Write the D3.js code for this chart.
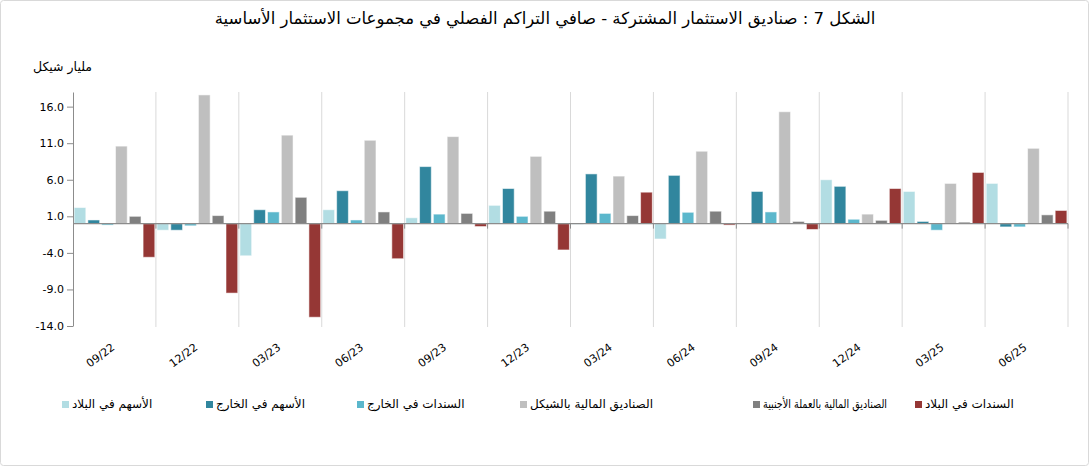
<!DOCTYPE html>
<html>
<head>
<meta charset="utf-8">
<script src="https://cdn.jsdelivr.net/npm/d3@7"></script>
<style>
    body { margin: 0; background: #fff; }
    text { font-family: "DejaVu Sans", sans-serif; }
</style>
</head>
<body>
<div id="chart"></div>
<script>
// quarters (end of quarter)
var categories = ["09/22", "12/22", "03/23", "06/23", "09/23", "12/23", "03/24", "06/24", "09/24", "12/24", "03/25", "06/25"];

var seriesNames = [
    "الأسهم في البلاد",
    "الأسهم في الخارج",
    "السندات في الخارج",
    "الصناديق المالية بالشيكل",
    "الصناديق المالية بالعملة الأجنبية",
    "السندات في البلاد"
];

// billion NIS
var domesticEquity = [2.2, -0.9, -4.4, 1.9, 0.8, 2.5, -0.1, -2.1, 0.0, 6.0, 4.4, 5.5];
var foreignEquity = [0.5, -0.9, 1.9, 4.5, 7.8, 4.8, 6.8, 6.6, 4.4, 5.1, 0.3, -0.45];
var foreignBonds = [-0.2, -0.3, 1.6, 0.5, 1.3, 1.0, 1.4, 1.55, 1.6, 0.6, -0.9, -0.45];
var shekelFunds = [10.6, 17.6, 12.1, 11.4, 11.9, 9.2, 6.5, 9.9, 15.3, 1.3, 5.5, 10.3];
var fxFunds = [1.0, 1.1, 3.6, 1.6, 1.4, 1.7, 1.1, 1.7, 0.3, 0.45, 0.2, 1.2];
var domesticBonds = [-4.6, -9.5, -12.8, -4.8, -0.4, -3.6, 4.3, -0.2, -0.8, 4.8, 7.0, 1.8];

var yTicks = [-14, -9, -4, 1, 6, 11, 16];

var colors = ["#b2dde3", "#31869e", "#5bb7cc", "#bfbfbf", "#808080", "#953735"];

function drawChart() {
    var W = 1090, H = 467;
    var margin = { top: 92, right: 22, bottom: 141, left: 73 },
        width = W - margin.left - margin.right,
        height = H - margin.top - margin.bottom;

    var allSeries = [domesticEquity, foreignEquity, foreignBonds, shekelFunds, fxFunds, domesticBonds];

    var root = d3.select("#chart")
        .append("svg")
        .attr("width", W)
        .attr("height", H);

    // outer frame
    root.append("rect")
        .attr("x", 0.5).attr("y", 0.5)
        .attr("width", W - 2).attr("height", H - 2)
        .attr("rx", 3)
        .attr("fill", "#fff")
        .attr("stroke", "#d9d9d9");

    // title
    root.append("text")
        .attr("x", 545)
        .attr("y", 24)
        .attr("text-anchor", "middle")
        .attr("direction", "rtl")
        .style("font-size", "16.5px")
        .style("fill", "#000")
        .text("الشكل 7 : صناديق الاستثمار المشتركة - صافي التراكم الفصلي في مجموعات الاستثمار الأساسية");

    // unit (rtl: start = right edge)
    root.append("text")
        .attr("x", 92)
        .attr("y", 71)
        .attr("text-anchor", "start")
        .attr("direction", "rtl")
        .style("font-size", "12.5px")
        .text("مليار شيكل");

    var svg = root.append("g")
        .attr("transform", "translate(" + margin.left + "," + margin.top + ")");

    var x0 = d3.scaleBand()
        .domain(categories)
        .range([0, width])
        .padding(0);

    var x1 = d3.scaleBand()
        .domain(d3.range(seriesNames.length))
        .range([0, x0.bandwidth()])
        .paddingInner(0.15)
        .paddingOuter(0.08);

    var y = d3.scaleLinear()
        .domain([-14, 18])
        .range([height, 0]);

    // vertical grid at category boundaries
    var bounds = categories.map(function (c) { return x0(c) + x0.bandwidth(); });
    svg.selectAll(".vgrid")
        .data(bounds)
        .enter()
        .append("line")
        .attr("x1", function (d) { return d; })
        .attr("x2", function (d) { return d; })
        .attr("y1", 0)
        .attr("y2", height + 1)
        .attr("stroke", "#d9d9d9")
        .attr("stroke-width", 1);

    // bars
    var groups = svg.selectAll(".grp")
        .data(categories)
        .enter()
        .append("g")
        .attr("transform", function (d) { return "translate(" + x0(d) + ",0)"; });

    groups.selectAll("rect")
        .data(function (d, i) {
            return allSeries.map(function (s, k) { return { k: k, value: s[i] }; });
        })
        .enter()
        .append("rect")
        .attr("x", function (d) { return x1(d.k); })
        .attr("width", x1.bandwidth())
        .attr("y", function (d) { return y(Math.max(0, d.value)); })
        .attr("height", function (d) { return Math.abs(y(d.value) - y(0)); })
        .attr("fill", function (d) { return colors[d.k]; })
        .attr("stroke", "#ffffff")
        .attr("stroke-opacity", 0.55)
        .attr("stroke-width", 1);

    // y axis
    var yAxis = svg.append("g")
        .call(d3.axisLeft(y).tickValues(yTicks).tickSize(6).tickSizeOuter(0)
            .tickFormat(d3.format(".1f")));
    yAxis.select(".domain").attr("stroke", "#8c8c8c");
    yAxis.selectAll(".tick line").attr("stroke", "#8c8c8c");
    yAxis.selectAll(".tick text")
        .attr("x", -9)
        .style("font-size", "11px")
        .style("fill", "#000")
        .text(function (d) { return d3.format(".1f")(d).replace("−", "-"); });

    // zero line with ticks at boundaries
    var x0Axis = svg.append("g")
        .attr("transform", "translate(0," + y(0) + ")");
    x0Axis.append("line")
        .attr("x1", 0).attr("x2", width)
        .attr("stroke", "#8c8c8c")
        .attr("stroke-width", 1.3);
    x0Axis.selectAll(".zt")
        .data(bounds)
        .enter()
        .append("line")
        .attr("x1", function (d) { return d; })
        .attr("x2", function (d) { return d; })
        .attr("y1", 0).attr("y2", 5)
        .attr("stroke", "#8c8c8c");

    // category labels
    svg.selectAll(".xlab")
        .data(categories)
        .enter()
        .append("text")
        .attr("text-anchor", "end")
        .attr("transform", function (d) {
            return "translate(" + (x0(d) + x0.bandwidth() / 2 + 1) + "," + (height + 23) + ") rotate(-36)";
        })
        .style("font-size", "11px")
        .text(function (d) { return d; });

    // legend
    var legendX = [62, 206, 357, 520, 753, 915];
    var leg = root.selectAll(".leg")
        .data(seriesNames)
        .enter()
        .append("g")
        .attr("transform", function (d, i) { return "translate(" + legendX[i] + ",401)"; });
    leg.append("rect")
        .attr("x", 0).attr("y", 0)
        .attr("width", 7).attr("height", 7)
        .attr("fill", function (d, i) { return colors[i]; });
    leg.append("text")
        .attr("x", 10)
        .attr("y", 7)
        .attr("text-anchor", "end")
        .attr("direction", "rtl")
        .style("font-size", "12px")
        .text(function (d) { return d; })
        .each(function (d, i) {
            // squeeze long labels so they don't run into the next item
            var maxW = (i < legendX.length - 1 ? legendX[i + 1] - legendX[i] : 130) - 38;
            if (this.getComputedTextLength() > maxW) {
                d3.select(this).attr("textLength", maxW).attr("lengthAdjust", "spacingAndGlyphs");
            }
        });
}

drawChart();
</script>
</body>
</html>
